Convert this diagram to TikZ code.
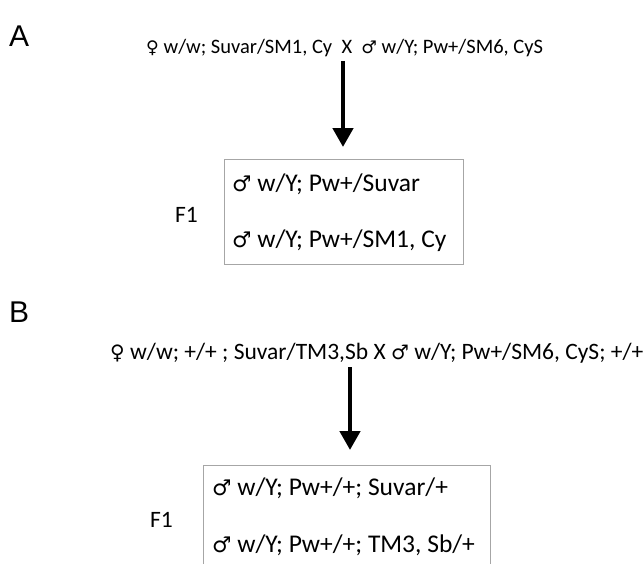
\documentclass[tikz,border=0pt]{standalone}
\usepackage{fontspec}
\setmainfont{Carlito}
\newfontfamily\symf{DejaVu Sans}
\newfontfamily\labf{Liberation Sans}
\usetikzlibrary{arrows.meta}
\newcommand{\fem}{{\symf\fontsize{0.85em}{1em}\selectfont ♀}}
\newcommand{\mal}{{\symf\fontsize{0.85em}{1em}\selectfont ♂}}
\begin{document}
\begin{tikzpicture}[x=1pt,y=-1pt,
  txt/.style={inner sep=0pt,anchor=west,font=\fontsize{23.5}{25}\selectfont},
  txtbox/.style={inner sep=0pt,anchor=west,font=\fontsize{25.5}{27}\selectfont},
  txta/.style={inner sep=0pt,anchor=west,font=\fontsize{20.5}{23}\selectfont},
  panel/.style={inner sep=0pt,anchor=west,font=\labf\fontsize{30}{32}\selectfont},
  bigarrow/.style={line width=4.5pt,-{Triangle[width=20pt,length=19pt]}},
  boxline/.style={draw=black!35,line width=0.8pt}]
\useasboundingbox (0,0) rectangle (643,563);
\fill[white] (0,0) rectangle (643,563);
% Panel A
\node[panel] (labA) at (9,36) {A};
\node[txta] (crossA) at (146,48) {\fem\ w/w; Suvar/SM1, Cy\ \ X\ \ \mal\ w/Y; Pw+/SM6, CyS};
\node[boxline,inner sep=0pt,minimum width=239pt,minimum height=105pt,anchor=north west] (boxA) at (224,159) {};
\node[txtbox] (a1) at (232,184) {\mal\ w/Y; Pw+/Suvar};
\node[txtbox] (a2) at (232,241) {\mal\ w/Y; Pw+/SM1, Cy};
\node[txt] (f1A) at (175,215) {F1};
\coordinate (xA) at (343,0);
\draw[bigarrow] (crossA.south -| xA) ++(0,4) -- ([yshift=12pt]boxA.north -| xA);
% Panel B
\node[panel] (labB) at (9,312) {B};
\node[txt] (crossB) at (110,353) {\fem\ w/w; +/+ ; Suvar/TM3,Sb X \mal\ w/Y; Pw+/SM6, CyS; +/+};
\coordinate (bTL) at (203,465);
\coordinate (bTR) at (490,465);
\coordinate (bBL) at (203,570);
\coordinate (bBR) at (490,570);
\draw[boxline] (bBL) -- (bTL) -- (bTR) -- (bBR);
\node[txtbox] (b1) at (212,488) {\mal\ w/Y; Pw+/+; Suvar/+};
\node[txtbox] (b2) at (212,545) {\mal\ w/Y; Pw+/+; TM3, Sb/+};
\node[txt] (f1B) at (150,520) {F1};
\coordinate (xB) at (350,0);
\draw[bigarrow] (crossB.south -| xB) ++(0,4) -- ([yshift=15pt]bTL -| xB);
\end{tikzpicture}
\end{document}
